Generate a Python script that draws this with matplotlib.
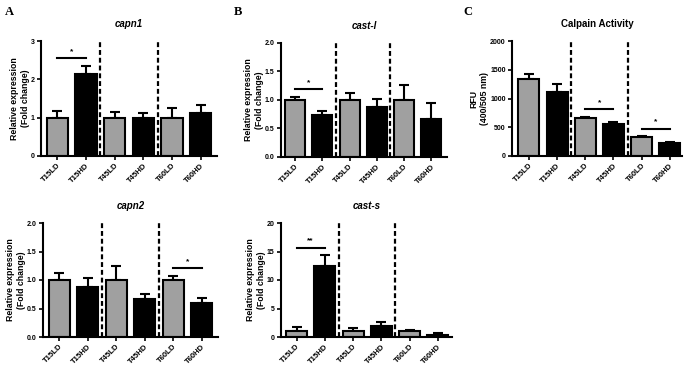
import matplotlib
matplotlib.use("Agg")
import matplotlib.pyplot as plt
import numpy as np

plt.rcParams['font.family'] = ['Liberation Sans', 'DejaVu Sans']

categories = ["T15LD", "T15HD", "T45LD", "T45HD", "T60LD", "T60HD"]
bar_colors = ["#a0a0a0", "#000000", "#a0a0a0", "#000000", "#a0a0a0", "#000000"]

capn1_mean = [1.0, 2.13, 1.0, 0.98, 1.0, 1.13]
capn1_err = [0.18, 0.23, 0.15, 0.13, 0.26, 0.21]

castl_mean = [1.0, 0.74, 1.0, 0.88, 1.0, 0.67]
castl_err = [0.05, 0.07, 0.13, 0.13, 0.26, 0.27]

calpain_mean = [1335, 1120, 659, 560, 327, 222]
calpain_err = [95, 130, 23, 29, 29, 23]

capn2_mean = [1.0, 0.87, 1.0, 0.66, 1.0, 0.6]
capn2_err = [0.12, 0.17, 0.24, 0.10, 0.07, 0.09]

casts_mean = [1.0, 12.4, 1.0, 2.0, 1.0, 0.4]
casts_err = [0.74, 2.0, 0.5, 0.6, 0.3, 0.24]

fig = plt.figure(figsize=(6.85, 3.66), dpi=100)
W, H = 685.0, 366.0


def make_ax(left, right, top, bottom):
    return fig.add_axes([left / W, 1 - bottom / H, (right - left) / W, (bottom - top) / H])


def draw(ax, means, errs, title, ylim, yticks, yticklabels, ylabel, xlim, sig=None):
    x = np.arange(len(categories))
    ax.bar(x, means, width=0.74, color=bar_colors, edgecolor="black", linewidth=1.5, zorder=2)
    ax.errorbar(x, means, yerr=[np.zeros(len(errs)), errs], fmt="none", ecolor="black",
                elinewidth=1.5, capsize=3.5, capthick=1.5, zorder=1)
    for xv in (1.5, 3.5):
        ax.axvline(xv, ymin=0, ymax=1, color="black", linestyle=(0, (2.2, 1.3)), linewidth=1.6, zorder=3)
    ax.set_xlim(*xlim)
    ax.set_ylim(*ylim)
    ax.set_yticks(yticks)
    ax.set_yticklabels(yticklabels, fontsize=5, fontweight="bold")
    ax.set_xticks(x)
    ax.set_xticklabels(categories, rotation=45, ha="right", rotation_mode="anchor",
                       fontsize=5.6, fontweight="bold")
    for s in ("top", "right"):
        ax.spines[s].set_visible(False)
    for s in ("left", "bottom"):
        ax.spines[s].set_linewidth(1.5)
    ax.tick_params(axis="both", width=1.2, length=3, pad=1.5)
    ax.set_title(title, fontsize=7, fontweight="bold", pad=10,
                 fontstyle="italic" if title != "Calpain Activity" else "normal")
    ax.set_ylabel(ylabel, fontsize=6.3, fontweight="bold", linespacing=1.3, labelpad=0.5)
    if sig is not None:
        i0, i1, yline, mark = sig
        ax.plot([i0, i1], [yline, yline], color="black", linewidth=1.5, clip_on=False)
        ax.text((i0 + i1) / 2, yline + (ylim[1] - ylim[0]) * 0.025, mark, ha="center", va="bottom",
                fontsize=6, fontweight="bold")


rel = "Relative expression\n(Fold change)"

ax1 = make_ax(41, 217, 41, 156)
draw(ax1, capn1_mean, capn1_err, "capn1", (0, 3), [0, 1, 2, 3], ["0", "1", "2", "3"], rel,
     (-0.57, 5.57), sig=(0, 1, 2.55, "*"))

ax2 = make_ax(281, 447, 43, 157)
draw(ax2, castl_mean, castl_err, "cast-l", (0, 2), [0, 0.5, 1, 1.5, 2],
     ["0.0", "0.5", "1.0", "1.5", "2.0"], rel, (-0.52, 5.58), sig=(0, 1, 1.19, "*"))

ax3 = make_ax(512, 682, 41, 156)
draw(ax3, calpain_mean, calpain_err, "Calpain Activity", (0, 2000), [0, 500, 1000, 1500, 2000],
     ["0", "500", "1000", "1500", "2000"], "RFU\n(400/505 nm)", (-0.6, 5.43),
     sig=(2, 3, 810, "*"))
ax3.plot([4, 5], [478, 478], color="black", linewidth=1.5)
ax3.text(4.5, 478 + 50, "*", ha="center", va="bottom", fontsize=6, fontweight="bold")

ax4 = make_ax(43, 218, 223, 337)
draw(ax4, capn2_mean, capn2_err, "capn2", (0, 2), [0, 0.5, 1, 1.5, 2],
     ["0.0", "0.5", "1.0", "1.5", "2.0"], rel, (-0.57, 5.57), sig=(4, 5, 1.21, "*"))

ax5 = make_ax(281, 452, 223, 337)
draw(ax5, casts_mean, casts_err, "cast-s", (0, 20), [0, 5, 10, 15, 20],
     ["0", "5", "10", "15", "20"], rel, (-0.55, 5.5), sig=(0, 1, 15.7, "**"))

for lab, xp in (("A", 5), ("B", 234), ("C", 463)):
    fig.text(xp / W, 1 - 12 / H, lab, fontsize=9, fontweight="bold", family="Liberation Serif",
             ha="left", va="center")

fig.savefig("out.png", dpi=100)
